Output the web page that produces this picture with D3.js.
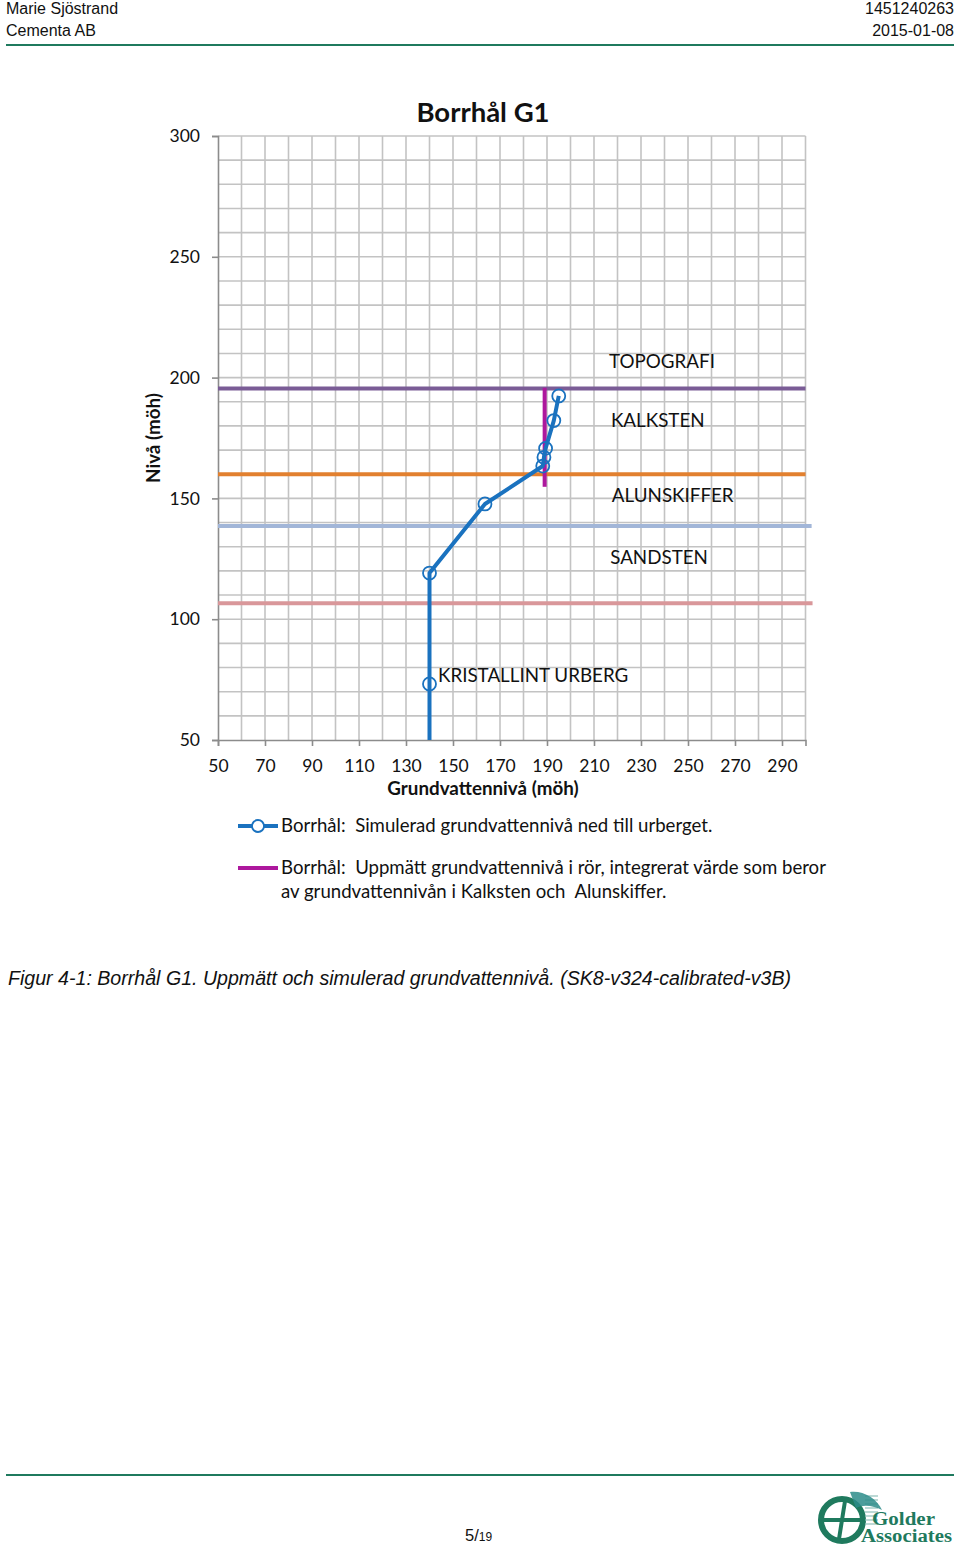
<!DOCTYPE html>
<html>
<head>
<meta charset="utf-8">
<script src="https://cdn.jsdelivr.net/npm/d3@7"></script>
<style>
html,body{margin:0;padding:0;background:#fff;}
svg{display:block;}
.pre{white-space:pre;}
</style>
</head>
<body>
<svg id="page" width="960" height="1545"></svg>
<script>
// ---------- data ----------
const xTicks = [50, 70, 90, 110, 130, 150, 170, 190, 210, 230, 250, 270, 290];
const yTicks = [50, 100, 150, 200, 250, 300];
const simX = [140, 140, 140, 163.6, 188.2, 188.7, 189.4, 192.9, 195.0];
const simY = [30, 73.2, 119.1, 147.7, 163.4, 167.0, 170.7, 182.2, 192.4];
const simMarker = [false, true, true, true, true, true, true, true, true];
const measX = [189, 189];
const measY = [154.8, 195.8];
const layerNames = ["TOPOGRAFI", "KALKSTEN", "ALUNSKIFFER", "SANDSTEN", "KRISTALLINT URBERG"];
const boundaryLevels = [195.5, 160.0, 138.6, 106.6];
const boundaryEnds = [300, 300, 302.6, 303];
const legendTexts = [
  ["Borrhål:  Simulerad grundvattennivå ned till urberget."],
  ["Borrhål:  Uppmätt grundvattennivå i rör, integrerat värde som beror", "av grundvattennivån i Kalksten och  Alunskiffer."]
];

// ---------- styles ----------
const boundaryColors = ["#7a5c96", "#e2802f", "#a2b6d8", "#d9979a"];
const simColor = "#1a72bf";
const measColor = "#ad189d";
const gridColor = "#c3c3c3";
const axisColor = "#8c8c8c";
const chartFont = "Lato, 'Open Sans', sans-serif";
const docFont = "'Liberation Sans', Arial, sans-serif";
const green = "#1f7a5e";

const svg = d3.select("#page");

// ---------- header ----------
[["Marie Sjöstrand", 6, 14, "start"], ["Cementa AB", 6, 36, "start"],
 ["1451240263", 954, 14, "end"], ["2015-01-08", 954, 36, "end"]].forEach(h => {
  svg.append("text").attr("x", h[1]).attr("y", h[2]).text(h[0]).attr("text-anchor", h[3])
    .attr("font-family", docFont).attr("font-size", 16).attr("fill", "#111");
});
svg.append("line").attr("x1", 6).attr("x2", 954).attr("y1", 45).attr("y2", 45)
  .attr("stroke", green).attr("stroke-width", 2.2);

// ---------- chart ----------
const x = d3.scaleLinear().domain([50, 300]).range([218, 805.5]);
const y = d3.scaleLinear().domain([50, 300]).range([740, 136]);

// grid
const g = svg.append("g");
g.selectAll("line.vg").data(d3.range(60, 301, 10)).join("line")
  .attr("x1", d => x(d)).attr("x2", d => x(d)).attr("y1", y(50)).attr("y2", y(300))
  .attr("stroke", gridColor).attr("stroke-width", 1.6);
g.selectAll("line.hg").data(d3.range(60, 301, 10)).join("line")
  .attr("x1", x(50)).attr("x2", x(300)).attr("y1", d => y(d)).attr("y2", d => y(d))
  .attr("stroke", gridColor).attr("stroke-width", 1.6);

// axes
const xAxis = d3.axisBottom(x).tickValues(xTicks).tickSize(6).tickPadding(14).tickFormat(d3.format("d"));
const yAxis = d3.axisLeft(y).tickValues(yTicks).tickSize(6).tickPadding(12).tickFormat(d3.format("d"));
const gx = svg.append("g").attr("transform", `translate(0,${y(50)})`).call(xAxis);
const gy = svg.append("g").attr("transform", `translate(${x(50)},0)`).call(yAxis);
[gx, gy].forEach(a => {
  a.select(".domain").attr("stroke", axisColor).attr("stroke-width", 1.6);
  a.selectAll(".tick line").attr("stroke", axisColor).attr("stroke-width", 1.6);
  a.selectAll(".tick text").attr("font-family", chartFont).attr("font-size", 17.5).attr("fill", "#111");
});

// boundary lines
svg.append("g").selectAll("line").data(boundaryLevels).join("line")
  .attr("x1", x(50)).attr("x2", (d, i) => x(boundaryEnds[i]))
  .attr("y1", d => y(d)).attr("y2", d => y(d))
  .attr("stroke", (d, i) => boundaryColors[i]).attr("stroke-width", 4);

// layer labels
const labelPos = [[216.4, 206.5], [217.2, 182.2], [217.6, 151.2], [216.9, 125.4], [143.6, 76.9]];
svg.append("g").selectAll("text").data(layerNames).join("text")
  .attr("x", (d, i) => x(labelPos[i][0])).attr("y", (d, i) => y(labelPos[i][1]))
  .attr("dy", "0.35em").text(d => d)
  .attr("font-family", chartFont).attr("font-size", 18.8).attr("fill", "#111");

// clip
svg.append("clipPath").attr("id", "plotclip").append("rect")
  .attr("x", x(50)).attr("y", y(300)).attr("width", x(300) - x(50)).attr("height", y(50) - y(300));

// measured
const measData = measX.map((v, i) => [v, measY[i]]);
svg.append("path").datum(measData)
  .attr("d", d3.line().x(d => x(d[0])).y(d => y(d[1])))
  .attr("stroke", measColor).attr("stroke-width", 4).attr("fill", "none");

// simulated
const simData = simX.map((v, i) => ({x: v, y: simY[i], m: simMarker[i]}));
const simG = svg.append("g").attr("clip-path", "url(#plotclip)");
simG.append("path").datum(simData)
  .attr("d", d3.line().x(d => x(d.x)).y(d => y(d.y)))
  .attr("stroke", simColor).attr("stroke-width", 4).attr("fill", "none").attr("stroke-linejoin", "round");
simG.selectAll("circle").data(simData.filter(d => d.m)).join("circle")
  .attr("cx", d => x(d.x)).attr("cy", d => y(d.y)).attr("r", 6.5)
  .attr("fill", "none").attr("stroke", simColor).attr("stroke-width", 1.8);

// titles
svg.append("text").attr("x", 483).attr("y", 122).attr("text-anchor", "middle").text("Borrhål G1")
  .attr("font-family", chartFont).attr("font-weight", "bold").attr("font-size", 27.5).attr("fill", "#111");
svg.append("text").attr("transform", "translate(160,438) rotate(-90)").attr("text-anchor", "middle")
  .text("Nivå (möh)").attr("font-family", chartFont).attr("font-weight", "bold").attr("font-size", 18.8).attr("fill", "#111");
svg.append("text").attr("x", 483).attr("y", 795).attr("text-anchor", "middle").text("Grundvattennivå (möh)")
  .attr("font-family", chartFont).attr("font-weight", "bold").attr("font-size", 18.8).attr("fill", "#111");

// legend
const leg = svg.append("g");
leg.append("line").attr("x1", 238).attr("x2", 278).attr("y1", 826).attr("y2", 826)
  .attr("stroke", simColor).attr("stroke-width", 4);
leg.append("circle").attr("cx", 258).attr("cy", 826).attr("r", 6).attr("fill", "#fff")
  .attr("stroke", simColor).attr("stroke-width", 1.8);
leg.append("line").attr("x1", 238).attr("x2", 278).attr("y1", 868).attr("y2", 868)
  .attr("stroke", measColor).attr("stroke-width", 4);
const legY = [[832], [874, 898]];
legendTexts.forEach((lines, i) => {
  lines.forEach((t, j) => {
    leg.append("text").attr("class", "pre").attr("x", 281).attr("y", legY[i][j]).text(t)
      .attr("font-family", chartFont).attr("font-size", 18.6).attr("fill", "#111");
  });
});

// caption
svg.append("text").attr("x", 8).attr("y", 985)
  .text("Figur 4-1: Borrhål G1. Uppmätt och simulerad grundvattennivå. (SK8-v324-calibrated-v3B)")
  .attr("font-family", docFont).attr("font-style", "italic").attr("font-size", 19.6).attr("fill", "#111");

// footer
svg.append("line").attr("x1", 6).attr("x2", 954).attr("y1", 1475).attr("y2", 1475)
  .attr("stroke", green).attr("stroke-width", 2.2);
const pg = svg.append("text").attr("x", 465).attr("y", 1541).attr("font-family", docFont).attr("fill", "#111");
pg.append("tspan").attr("font-size", 16.5).text("5/");
pg.append("tspan").attr("font-size", 12).text("19");

// logo
const logo = svg.append("g").attr("transform", "translate(842,1520)");
logo.append("circle").attr("r", 21).attr("fill", "none").attr("stroke", green).attr("stroke-width", 6);
logo.append("line").attr("x1", -19).attr("x2", 19).attr("y1", 0).attr("y2", 0).attr("stroke", green).attr("stroke-width", 4);
logo.append("path").attr("d", "M3,-19 L-3,19").attr("stroke", green).attr("stroke-width", 4);
d3.range(-14, 16, 4).forEach(v => {
  logo.append("line").attr("x1", 23).attr("x2", 36).attr("y1", v - 10).attr("y2", v - 10)
    .attr("stroke", "#8fc0ba").attr("stroke-width", 1.2);
});
logo.append("path").attr("d", "M8,-28 C20,-30 35,-22 40,-10 C32,-14 22,-16 14,-12 Z").attr("fill", "#2d8c8a").attr("opacity", 0.85);
svg.append("text").attr("x", 872).attr("y", 1525).text("Golder")
  .attr("font-family", "'Liberation Serif', serif").attr("font-weight", "bold").attr("font-size", 19).attr("fill", green)
  .attr("textLength", 63).attr("lengthAdjust", "spacingAndGlyphs");
svg.append("text").attr("x", 861).attr("y", 1542).text("Associates")
  .attr("font-family", "'Liberation Serif', serif").attr("font-weight", "bold").attr("font-size", 18).attr("fill", green)
  .attr("textLength", 91).attr("lengthAdjust", "spacingAndGlyphs");
</script>
</body>
</html>
